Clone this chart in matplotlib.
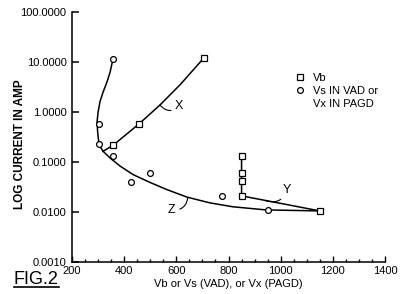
import matplotlib
matplotlib.use('Agg')
import matplotlib.pyplot as plt
from matplotlib.ticker import FixedLocator, MultipleLocator, NullLocator
from matplotlib.lines import Line2D

plt.rcParams['font.family'] = ['Liberation Sans', 'DejaVu Sans']

# Vb readings (squares)
vb_x = [357, 457, 705, 850, 850, 850, 850, 1150]
vb_y = [0.215, 0.58, 12.0, 0.13, 0.06, 0.042, 0.021, 0.0105]

# Vs in VAD / Vx in PAGD readings (circles)
vs_x = [357, 303, 303, 357, 426, 499, 775, 950]
vs_y = [11.5, 0.57, 0.23, 0.13, 0.04, 0.06, 0.021, 0.011]

# curve X (through the Vb points)
cx_x = [319, 357, 457, 537, 614, 705]
cx_y = [0.164, 0.215, 0.58, 1.38, 3.5, 12.0]

# curve Y (vertical run at 850 then to 1150)
cy_x = [850, 850, 1150]
cy_y = [0.13, 0.021, 0.0105]

# curve Z (envelope)
cz_x = [357, 346, 334, 319, 307, 300, 296, 298, 302, 307, 319, 346, 384, 434,
        499, 564, 641, 729, 817, 943, 1150]
cz_y = [11.5, 6.3, 4.0, 2.5, 1.6, 1.0, 0.64, 0.41, 0.26, 0.206, 0.164, 0.12,
        0.083, 0.056, 0.039, 0.028, 0.0198, 0.0152, 0.0127, 0.011, 0.0105]

y_ticks = [0.001, 0.01, 0.1, 1, 10, 100]
y_labels = ['0.0010', '0.0100', '0.1000', '1.0000', '10.0000', '100.0000']
x_ticks = [200, 400, 600, 800, 1000, 1200, 1400]

fig = plt.figure(figsize=(4.07, 2.94), dpi=100)
ax = fig.add_axes([0.177, 0.109, 0.769, 0.850])

lw = 1.1
ax.plot(cz_x, cz_y, color='black', lw=lw)
ax.plot(cx_x, cx_y, color='black', lw=lw)
ax.plot(cy_x, cy_y, color='black', lw=lw)

h_sq, = ax.plot(vb_x, vb_y, linestyle='none', marker='s', ms=4, mfc='white',
                mec='black', mew=0.9, zorder=3)
h_ci, = ax.plot(vs_x, vs_y, linestyle='none', marker='o', ms=4.2, mfc='white',
                mec='black', mew=0.9, zorder=3)

ax.set_yscale('log')
ax.set_xlim(200, 1400)
ax.set_ylim(0.001, 100)
ax.yaxis.set_major_locator(FixedLocator(y_ticks))
ax.set_yticklabels(y_labels)
ax.yaxis.set_minor_locator(NullLocator())
ax.xaxis.set_major_locator(FixedLocator(x_ticks))
ax.xaxis.set_minor_locator(MultipleLocator(50))

for s in ['top', 'right']:
    ax.spines[s].set_visible(False)
for s in ['left', 'bottom']:
    ax.spines[s].set_linewidth(1.1)

ax.tick_params(axis='y', which='major', direction='in', length=5, width=1.1,
               labelsize=8, pad=4)
ax.tick_params(axis='x', which='major', direction='in', length=4, width=1.0,
               labelsize=8, pad=3)
ax.tick_params(axis='x', which='minor', direction='in', length=2.2, width=1.0)

ax.set_xlabel('Vb or Vs (VAD), or Vx (PAGD)', fontsize=8, labelpad=2)
fig.text(0.049, 0.51, 'LOG CURRENT IN AMP', fontsize=8.5, fontweight='bold',
         rotation=90, ha='center', va='center')

arrow = dict(arrowstyle='-', lw=0.8, color='black', shrinkA=1, shrinkB=0)
ax.annotate('X', xy=(537, 1.38), xytext=(595, 1.3), fontsize=9, va='center', ha='left',
            arrowprops=dict(arrow, connectionstyle='arc3,rad=-0.5'))
ax.annotate('Y', xy=(940, 0.017), xytext=(1008, 0.028), fontsize=9, va='center', ha='left',
            arrowprops=dict(arrow, connectionstyle='arc3,rad=-0.5'))
ax.annotate('Z', xy=(644, 0.0196), xytext=(568, 0.0112), fontsize=9, va='center', ha='left',
            arrowprops=dict(arrow, connectionstyle='arc3,rad=0.5'))

blank = Line2D([], [], linestyle='none')
ax.legend([h_sq, h_ci, blank], ['Vb', 'Vs IN VAD or', 'Vx IN PAGD'], loc='upper left',
          bbox_to_anchor=(0.714, 0.756), frameon=False, fontsize=8,
          handlelength=0.8, handletextpad=0.78, borderpad=0, borderaxespad=0,
          labelspacing=0.26)

fig.text(0.034, 0.034, 'FIG.2', fontsize=13)
fig.add_artist(Line2D([0.034, 0.146], [0.023, 0.023], color='black', lw=1.2))

fig.savefig('out.png', dpi=100)
